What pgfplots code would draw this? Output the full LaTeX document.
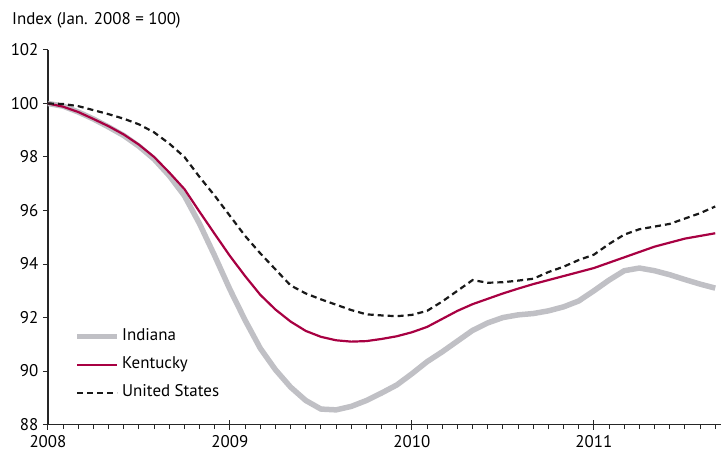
\documentclass[border=0pt]{standalone}
\usepackage{fontspec}
\setmainfont{PT Sans}
\usepackage{pgfplots}
\pgfplotsset{compat=1.18}
\usepackage{pgfplotstable}

\definecolor{indgray}{RGB}{192,192,197}
\definecolor{kyred}{RGB}{168,0,66}

% Employment index, month 0 = Jan. 2008
\pgfplotstableread{
m    ind    ky     us
0    100.00 100.00 100.00
1    99.90  99.88  99.98
2    99.68  99.68  99.90
3    99.42  99.42  99.75
4    99.12  99.15  99.60
5    98.80  98.84  99.43
6    98.40  98.46  99.22
7    97.92  98.00  98.92
8    97.30  97.42  98.50
9    96.55  96.80  98.00
10   95.50  95.95  97.25
11   94.30  95.12  96.55
12   93.05  94.30  95.80
13   91.90  93.55  95.05
14   90.85  92.85  94.40
15   90.05  92.30  93.80
16   89.40  91.85  93.20
17   88.90  91.50  92.90
18   88.58  91.28  92.68
19   88.55  91.15  92.48
20   88.68  91.10  92.28
21   88.90  91.12  92.12
22   89.18  91.20  92.08
23   89.48  91.30  92.05
24   89.90  91.45  92.10
25   90.35  91.65  92.25
26   90.72  91.95  92.60
27   91.12  92.25  93.00
28   91.52  92.50  93.40
29   91.80  92.70  93.30
30   92.00  92.90  93.32
31   92.10  93.08  93.38
32   92.15  93.25  93.45
33   92.25  93.40  93.70
34   92.40  93.55  93.90
35   92.62  93.70  94.15
36   93.00  93.85  94.35
37   93.40  94.05  94.75
38   93.75  94.25  95.10
39   93.85  94.45  95.30
40   93.75  94.65  95.40
41   93.60  94.80  95.50
42   93.42  94.95  95.70
43   93.25  95.05  95.90
44   93.10  95.15  96.15
}\employment

\begin{document}
\begin{tikzpicture}
\begin{axis}[
  width=674bp, height=375bp, scale only axis,
  xmin=0, xmax=44.4, ymin=88, ymax=102,
  axis x line=bottom, axis y line=left,
  axis line style={-, line width=1.4bp, black!85},
  every tick/.style={black!85, line width=1bp},
  xtick={0,12,24,36},
  xticklabels={2008,2009,2010,2011},
  minor xtick={1,...,44},
  extra x ticks={12,24,36},
  extra x tick labels={},
  extra x tick style={xtick align=inside},
  xtick align=outside, ytick align=outside,
  major tick length=5bp, minor tick length=4.5bp,
  ytick={88,90,...,102},
  tick label style={font=\fontsize{17}{20}\selectfont, black},
  /pgf/number format/assume math mode=true,
  xticklabel style={yshift=-2bp},
  yticklabel style={xshift=-1bp},
  legend style={draw=none, fill=none, at={(0.035,0.16)}, anchor=west,
    font=\fontsize{17}{20}\selectfont, row sep=0pt,
    nodes={text height=13bp, text depth=5bp, inner ysep=5bp},
    /tikz/every even column/.append style={column sep=10bp}},
  legend cell align=left,
  legend image code/.code={\draw[#1] (0bp,0bp) -- (40bp,0bp);},
  clip=false,
]
\addplot[indgray, line width=5.5bp, line join=round] table[x=m, y=ind] {\employment};
\addlegendentry{Indiana}
\addplot[kyred, line width=2.2bp, line join=round] table[x=m, y=ky] {\employment};
\addlegendentry{Kentucky}
\addplot[black!90, line width=2.2bp, dash pattern=on 6bp off 4bp] table[x=m, y=us] {\employment};
\addlegendentry{United States}
\node[anchor=base west, font=\fontsize{17}{20}\selectfont, inner sep=0pt]
  at ([xshift=-36bp, yshift=25bp]rel axis cs:0,1) {Index (Jan. 2008 = 100)};
% page frame around the plot area and its labels
\path ([xshift=-48bp, yshift=-27bp]rel axis cs:0,0) rectangle ([yshift=50bp]rel axis cs:1,1);
\end{axis}
\end{tikzpicture}
\end{document}
